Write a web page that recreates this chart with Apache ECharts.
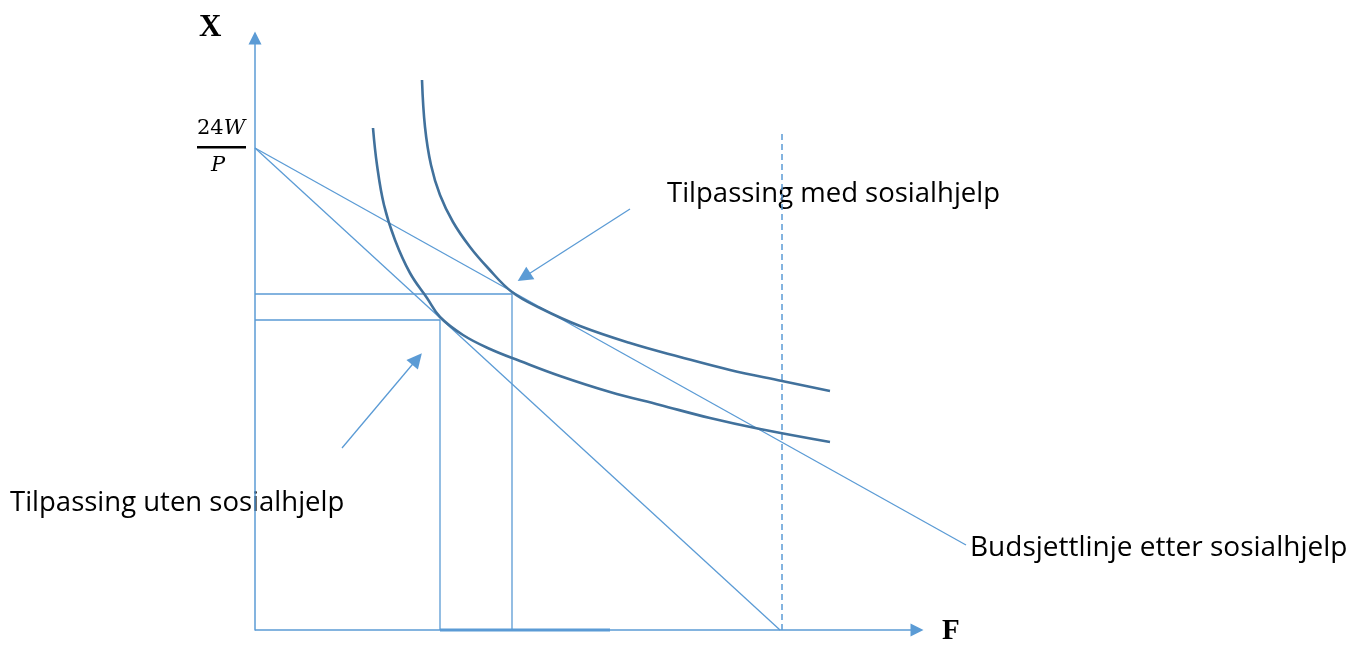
<!DOCTYPE html>
<html>
<head>
<meta charset="utf-8">
<script src="https://cdn.jsdelivr.net/npm/echarts@6/dist/echarts.min.js"></script>
<style>html,body{margin:0;padding:0;background:#fff}#c{width:1365px;height:645px}</style>
</head>
<body>
<div id="c"></div>
<script>
// Data (abstract units: F on x, X on y)
const budgetBefore = [[0, 482], [525, 0]];
const budgetAfter = [[0, 482], [711, 85]];
const icHigh = [[167, 550], [170, 503], [176, 465], [185, 435], [198, 408], [215, 383], [233, 362], [257, 338], [285, 322], [325, 304], [375, 287], [425, 273], [475, 260], [527, 249], [575, 239]];
const icLow = [[118, 502], [122, 465], [129, 425], [140, 390], [155, 357], [172, 332], [185, 313], [208, 295], [235, 281], [265, 269], [305, 254], [355, 238], [405, 225], [455, 212], [505, 201], [575, 188]];
const optimumWith = [[0, 336], [257, 336], [257, 0]];
const optimumWithout = [[0, 310], [185, 310], [185, 0]];
const workSegment = [[185, 0], [355, 0]];
const maxLeisure = [[527, 0], [527, 500]];
const xAxisLine = [[0, 0], [662, 0]];
const arrowWith = [[375, 421], [269, 353]];
const arrowWithout = [[87, 182], [162, 271]];
const labels = {
  with: 'Tilpassing med sosialhjelp',
  without: 'Tilpassing uten sosialhjelp',
  budget: 'Budsjettlinje etter sosialhjelp',
  xAxis: 'F',
  yAxis: 'X'
};

const thin = '#5b9bd5';
const dark = '#41719c';
const chart = echarts.init(document.getElementById('c'));

function lineSeries(data, opts) {
  return Object.assign({
    type: 'line', data: data, showSymbol: false, symbol: 'none', silent: true,
    lineStyle: { color: thin, width: 1.3 }, clip: false, z: 3
  }, opts || {});
}
function arrowSeries(pts, width, size) {
  return {
    type: 'line', data: [], silent: true,
    markLine: {
      silent: true, animation: false,
      symbol: ['none', 'triangle'], symbolSize: size || 15,
      label: { show: false },
      lineStyle: { color: thin, width: width || 1.3, type: 'solid' },
      emphasis: { disabled: true },
      data: [[{ coord: pts[0] }, { coord: pts[1] }]]
    }
  };
}

chart.setOption({
  animation: false,
  grid: { left: 255, right: 390, top: 38, bottom: 15, containLabel: false },
  xAxis: {
    type: 'value', min: 0, max: 720,
    axisTick: { show: false }, axisLabel: { show: false }, splitLine: { show: false },
    axisLine: { show: false }
  },
  yAxis: {
    type: 'value', min: 0, max: 592,
    axisTick: { show: false }, axisLabel: { show: false }, splitLine: { show: false },
    axisLine: { show: true, symbol: ['none', 'triangle'], symbolSize: [13, 13], lineStyle: { color: thin, width: 1.5 } }
  },
  series: [
    arrowSeries(xAxisLine, 1.5, 13),
    lineSeries(budgetBefore),
    lineSeries(budgetAfter),
    lineSeries(optimumWith),
    lineSeries(optimumWithout),
    lineSeries(workSegment, { lineStyle: { color: thin, width: 3 } }),
    lineSeries(maxLeisure, { lineStyle: { color: thin, width: 1.5, type: [6, 4] } }),
    lineSeries(icHigh, { smooth: 0.4, lineStyle: { color: dark, width: 2.6 }, z: 5 }),
    lineSeries(icLow, { smooth: 0.4, lineStyle: { color: dark, width: 2.6 }, z: 5 }),
    arrowSeries(arrowWith),
    arrowSeries(arrowWithout)
  ],
  graphic: [
    { type: 'text', left: 199, top: 12, style: { text: labels.yAxis, font: 'bold 31px "Liberation Serif", "DejaVu Serif", serif', fill: '#000' } },
    { type: 'text', left: 942, top: 617, style: { text: labels.xAxis, font: 'bold 29px "Liberation Serif", "DejaVu Serif", serif', fill: '#000' } },
    { type: 'text', left: 197, top: 118, style: { rich: {
        n: { font: '21px "DejaVu Serif", serif', fill: '#000' },
        i: { font: 'italic 21px "DejaVu Serif", serif', fill: '#000' } },
        text: '{n|24}{i|W}' } },
    { type: 'rect', shape: { x: 197, y: 146, width: 49, height: 2.5 }, style: { fill: '#000' } },
    { type: 'text', left: 211, top: 155, style: { text: 'P', font: 'italic 21px "DejaVu Serif", serif', fill: '#000' } },
    { type: 'text', left: 667, top: 180, style: { text: labels.with, font: '27.5px "Open Sans", sans-serif', fill: '#000' } },
    { type: 'text', left: 10, top: 489, style: { text: labels.without, font: '27.5px "Open Sans", sans-serif', fill: '#000' } },
    { type: 'text', left: 970, top: 534, style: { text: labels.budget, font: '28px "Open Sans", sans-serif', fill: '#000' } }
  ]
});
</script>
</body>
</html>
